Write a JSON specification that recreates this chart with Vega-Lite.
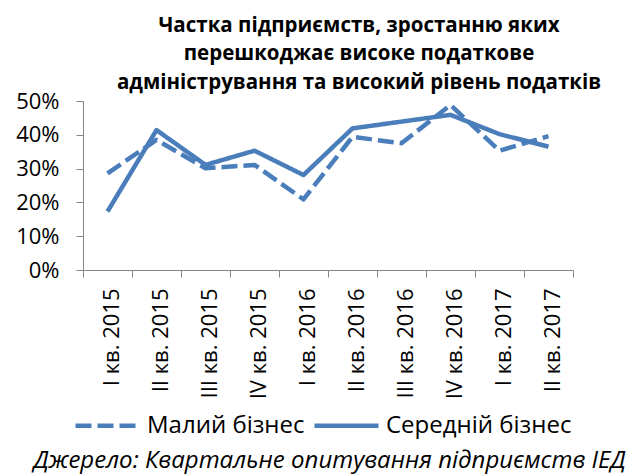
{
  "$schema": "https://vega.github.io/schema/vega-lite/v6.json",
  "width": 490,
  "height": 169,
  "autosize": {"type": "none"},
  "padding": {"left": 83, "top": 101, "right": 57, "bottom": 205},
  "background": "white",
  "config": {
    "font": "Open Sans",
    "view": {"stroke": null},
    "axis": {"grid": false, "domainColor": "#868686", "tickColor": "#868686", "labelColor": "#000000", "titleColor": "#000000"}
  },
  "title": {
    "text": ["Частка підприємств, зростанню яких", "перешкоджає високе податкове", "адміністрування та високий рівень податків"],
    "font": "Open Sans",
    "fontSize": 20.5,
    "fontWeight": "bold",
    "lineHeight": 28.5,
    "anchor": "middle",
    "frame": "group",
    "dx": 31,
    "offset": -3,
    "color": "#000000"
  },
  "data": {
    "values": [
      {"q": "I кв. 2015", "series": "Малий бізнес", "value": 0.286},
      {"q": "II кв. 2015", "series": "Малий бізнес", "value": 0.385},
      {"q": "III кв. 2015", "series": "Малий бізнес", "value": 0.301},
      {"q": "IV кв. 2015", "series": "Малий бізнес", "value": 0.311},
      {"q": "I кв. 2016", "series": "Малий бізнес", "value": 0.209},
      {"q": "II кв. 2016", "series": "Малий бізнес", "value": 0.394},
      {"q": "III кв. 2016", "series": "Малий бізнес", "value": 0.375},
      {"q": "IV кв. 2016", "series": "Малий бізнес", "value": 0.488},
      {"q": "I кв. 2017", "series": "Малий бізнес", "value": 0.353},
      {"q": "II кв. 2017", "series": "Малий бізнес", "value": 0.396},
      {"q": "I кв. 2015", "series": "Середній бізнес", "value": 0.173},
      {"q": "II кв. 2015", "series": "Середній бізнес", "value": 0.414},
      {"q": "III кв. 2015", "series": "Середній бізнес", "value": 0.311},
      {"q": "IV кв. 2015", "series": "Середній бізнес", "value": 0.353},
      {"q": "I кв. 2016", "series": "Середній бізнес", "value": 0.281},
      {"q": "II кв. 2016", "series": "Середній бізнес", "value": 0.419},
      {"q": "III кв. 2016", "series": "Середній бізнес", "value": 0.439},
      {"q": "IV кв. 2016", "series": "Середній бізнес", "value": 0.459},
      {"q": "I кв. 2017", "series": "Середній бізнес", "value": 0.402},
      {"q": "II кв. 2017", "series": "Середній бізнес", "value": 0.365}
    ]
  },
  "mark": {"type": "line", "color": "#4A7EBB", "strokeWidth": 4.5, "strokeCap": "butt", "strokeJoin": "round"},
  "encoding": {
    "x": {
      "field": "q",
      "type": "nominal",
      "sort": null,
      "scale": {"paddingInner": 0, "paddingOuter": 0},
      "axis": {
        "labelAngle": -90,
        "labelFontSize": 22,
        "labelPadding": 11,
        "tickSize": 7,
        "tickBand": "extent",
        "labelOffset": 4,
        "title": "Джерело: Квартальне опитування підприємств ІЕД",
        "titleFontStyle": "italic",
        "titleFontWeight": "normal",
        "titleFontSize": 24,
        "titleAlign": "right",
        "titleAnchor": null,
        "titleX": 542,
        "titleY": 197,
        "titleBaseline": "alphabetic"
      }
    },
    "y": {
      "field": "value",
      "type": "quantitative",
      "scale": {"domain": [0, 0.5], "nice": false},
      "axis": {
        "values": [0, 0.1, 0.2, 0.3, 0.4, 0.5],
        "format": ".0%",
        "labelFontSize": 22,
        "labelPadding": 17,
        "tickSize": 7,
        "title": null
      }
    },
    "strokeDash": {
      "field": "series",
      "type": "nominal",
      "scale": {"domain": ["Малий бізнес", "Середній бізнес"], "range": [[16, 6], [1, 0]]},
      "legend": {
        "title": null,
        "orient": "none",
        "direction": "horizontal",
        "legendX": -10,
        "legendY": 290,
        "symbolType": "stroke",
        "symbolSize": 4096,
        "symbolStrokeWidth": 4.5,
        "symbolStrokeColor": "#4A7EBB",
        "labelFontSize": 24,
        "labelLimit": 400,
        "labelColor": "#000000",
        "labelOffset": 5,
        "columnPadding": 0
      }
    }
  }
}
